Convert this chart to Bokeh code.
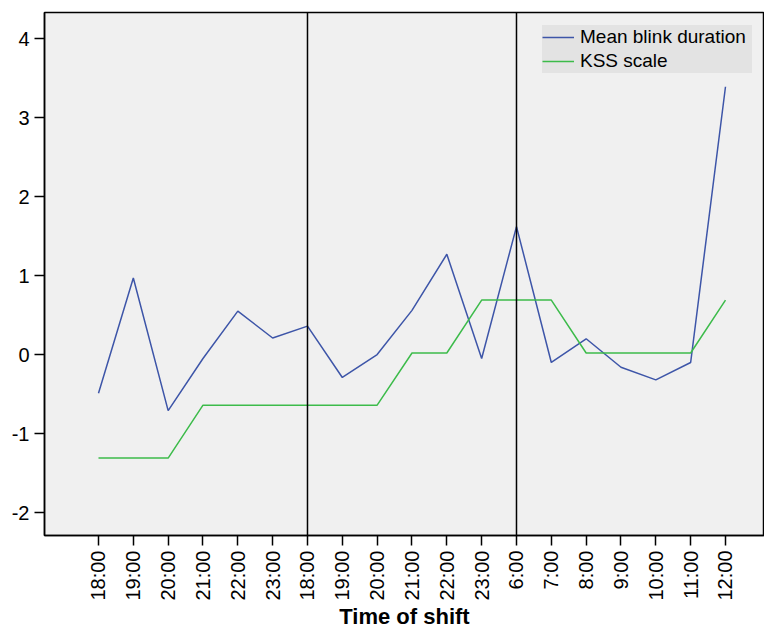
import math
from bokeh.plotting import figure
from bokeh.models import Span, Legend, LegendItem, FixedTicker
from bokeh.embed import file_html
from bokeh.resources import INLINE

tick_labels = ["18:00", "19:00", "20:00", "21:00", "22:00", "23:00", "18:00", "19:00", "20:00",
               "21:00", "22:00", "23:00", "6:00", "7:00", "8:00", "9:00", "10:00", "11:00", "12:00"]
blink = [-0.49, 0.97, -0.71, -0.05, 0.55, 0.21, 0.36, -0.29, 0.0, 0.56, 1.27, -0.05,
         1.62, -0.10, 0.20, -0.16, -0.32, -0.10, 3.39]
kss = [-1.31, -1.31, -1.31, -0.64, -0.64, -0.64, -0.64, -0.64, -0.64, 0.02, 0.02, 0.69,
       0.69, 0.69, 0.02, 0.02, 0.02, 0.02, 0.69]
separators = [6, 12]
y_ticks = [-2, -1, 0, 1, 2, 3, 4]
y_tick_labels = ["-2", "-1", "0", "1", "2", "3", "4"]

x = list(range(len(tick_labels)))

p = figure(width=764, height=631, output_backend="svg", toolbar_location=None,
           x_range=(-1.55, 19.12), y_range=(-2.29, 4.33),
           min_border_left=44, min_border_top=12, min_border_right=0, min_border_bottom=92)

p.background_fill_color = "#f0f0f0"
p.border_fill_color = "white"
p.outline_line_color = "black"
p.outline_line_width = 1.5
p.xgrid.visible = False
p.ygrid.visible = False

font = "Liberation Sans"
p.xaxis.ticker = FixedTicker(ticks=x)
p.xaxis.major_label_overrides = {i: lab for i, lab in enumerate(tick_labels)}
p.xaxis.major_label_orientation = math.pi / 2
p.yaxis.ticker = FixedTicker(ticks=y_ticks)
p.yaxis.major_label_overrides = {t: lab for t, lab in zip(y_ticks, y_tick_labels)}
for ax in (p.xaxis, p.yaxis):
    ax.major_tick_out = 10
    ax.major_tick_in = 0
    ax.minor_tick_line_color = None
    ax.axis_line_color = "black"
    ax.axis_line_width = 1.5
    ax.major_tick_line_width = 1.5
    ax.major_tick_line_color = "black"
    ax.major_label_text_font = font
    ax.major_label_text_font_size = "20px"
    ax.major_label_text_color = "black"
    ax.major_label_standoff = 5
p.xaxis.axis_label = "Time of shift"
p.xaxis.axis_label_text_font = font
p.xaxis.axis_label_text_font_style = "bold"
p.xaxis.axis_label_text_font_size = "22px"
p.xaxis.axis_label_text_color = "black"
p.xaxis.axis_label_standoff = 0

for s in separators:
    p.add_layout(Span(location=s, dimension="height", line_color="black", line_width=1.5))

r1 = p.line(x, blink, line_color="#3d55a8", line_width=1.5)
r2 = p.line(x, kss, line_color="#3cbb4a", line_width=1.5)

legend = Legend(items=[LegendItem(label="Mean blink duration", renderers=[r1]),
                       LegendItem(label="KSS scale", renderers=[r2])],
                location=(498, 462), margin=0, padding=6, spacing=0,
                label_text_font=font, label_text_font_size="19px", label_text_color="black",
                glyph_width=32, glyph_height=24, label_height=24, label_width=172,
                label_standoff=6,
                background_fill_color="#e3e3e3", background_fill_alpha=1.0,
                border_line_color=None)
p.add_layout(legend)

open("out.html", "w").write(file_html(p, INLINE))
